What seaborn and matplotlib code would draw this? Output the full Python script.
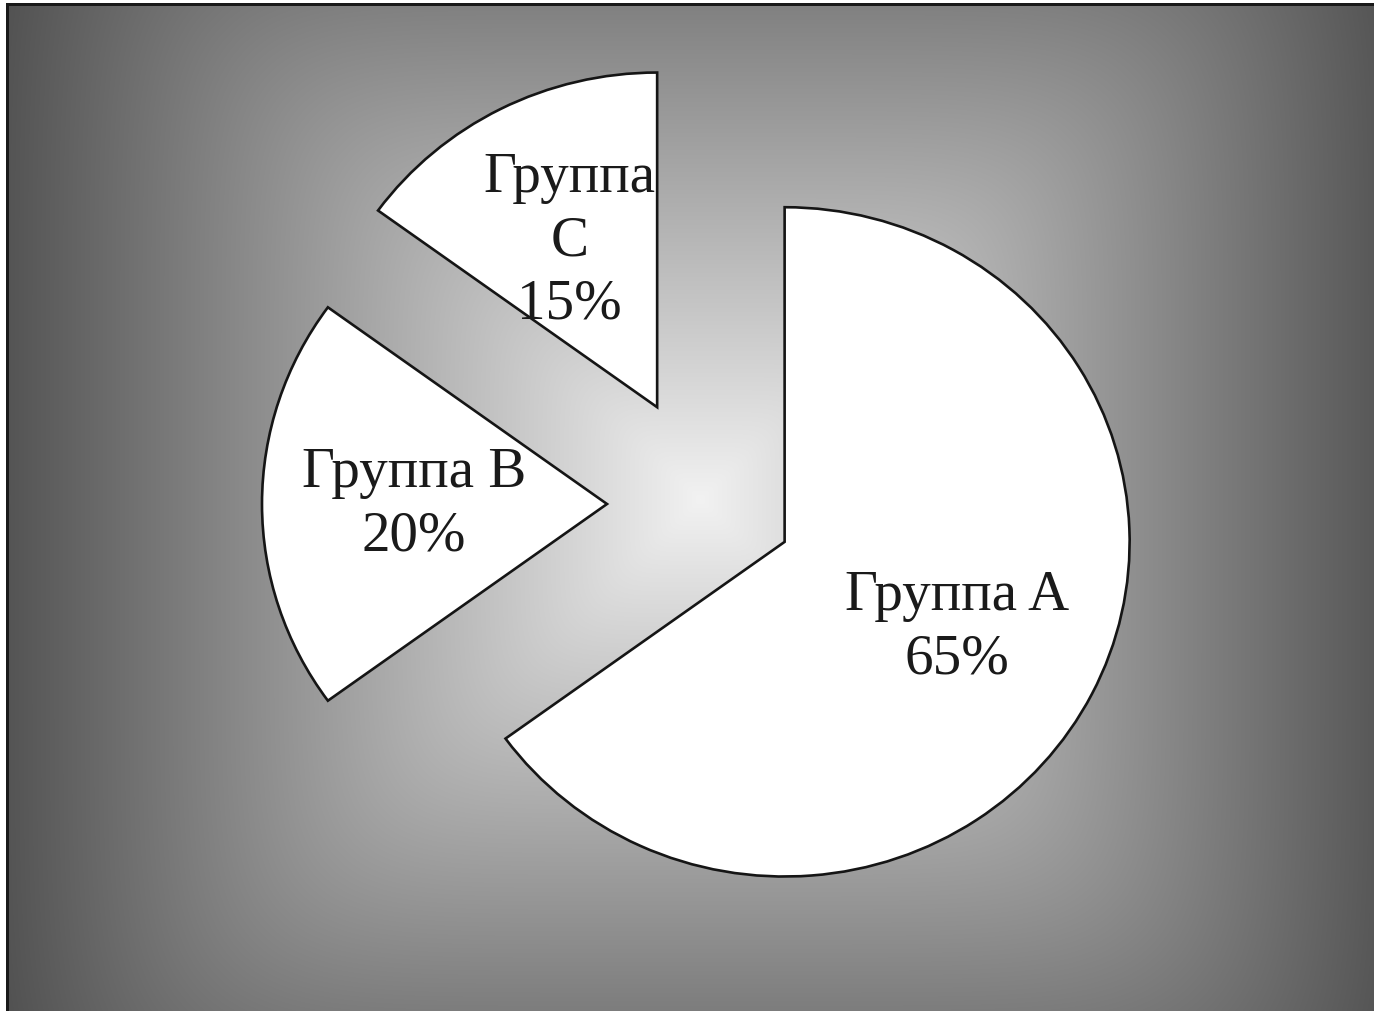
import numpy as np
import matplotlib
matplotlib.use('Agg')
import matplotlib.pyplot as plt
import seaborn as sns

# Данные
groups = ['Группа A', 'Группа B', 'Группа\nC']
shares = [65, 20, 15]

W, H = 1374, 1012
SY = 0.97  # круг в оригинале слегка растянут по горизонтали

sns.set_theme(style='white')
plt.rcParams['font.family'] = ['Liberation Serif', 'DejaVu Serif']

fig = plt.figure(figsize=(W / 100, H / 100), dpi=100, facecolor='white')
ax = fig.add_axes([0, 0, 1, 1])

# Фон: градиент от светлого центра к тёмным краям + рамка
xx, yy = np.meshgrid(np.arange(W), np.arange(H))
u = np.abs(xx - 700) / 690
v = np.abs(yy - 500) / 685
t = (u ** 7 + v ** 7) ** (1 / 7)
gray = np.clip(242 - 157 * t, 0, 255) / 255
bg = np.dstack([gray, gray, gray])
bg[:, 6:9] = 0.1
bg[4:7, 6:] = 0.1
bg[:, :6] = 1.0
bg[:4, :] = 1.0
ax.imshow(bg, extent=(0, W, 0, H / SY), interpolation='nearest',
          aspect='auto', zorder=0)

# Круговая диаграмма с вынесенными секторами
labels = [f'{g}\n{s}%' for g, s in zip(groups, shares)]
wedges, texts = ax.pie(
    shares, explode=[86, 101, 112], labels=labels,
    startangle=90, counterclock=False,
    center=(708, (H - 505) / SY), radius=345, labeldistance=0.56,
    wedgeprops=dict(facecolor='white', edgecolor='#151515', linewidth=1.9, zorder=2),
    textprops=dict(fontsize=41, horizontalalignment='center',
                   verticalalignment='center', linespacing=1.28,
                   color='#1a1a1a', zorder=3),
)

ax.set_xlim(0, W)
ax.set_ylim(0, H / SY)
ax.set_aspect('auto')
ax.axis('off')

fig.savefig('out.png', dpi=100, facecolor='white')
